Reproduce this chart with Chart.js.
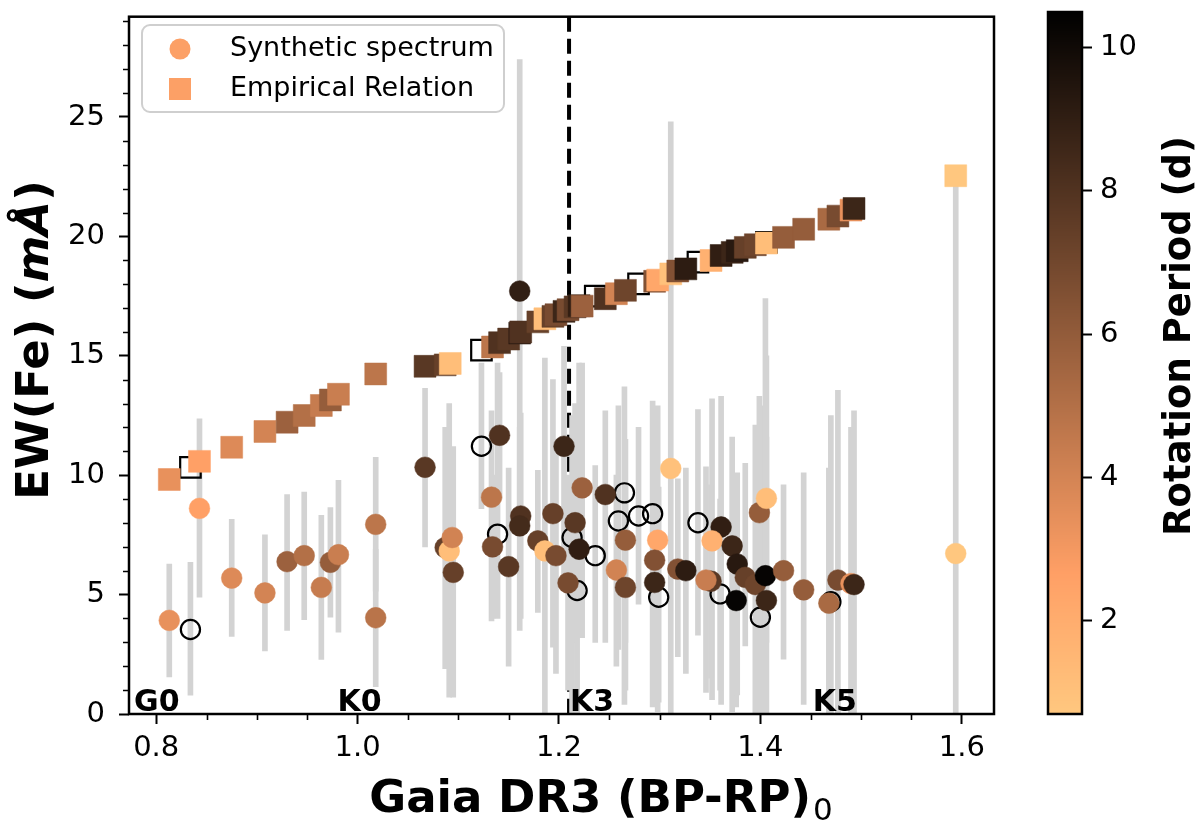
<!DOCTYPE html>
<html>
<head>
<meta charset="utf-8">
<script src="https://cdn.jsdelivr.net/npm/chart.js@4.4.1/dist/chart.umd.min.js"></script>
<style>
  html, body { margin: 0; padding: 0; background: #fff; }
  #wrap { position: relative; width: 1200px; height: 829px; }
  #main { position: absolute; left: 0; top: 0; }
  #cbar { position: absolute; left: 1000px; top: 0; }
</style>
</head>
<body>
<div id="wrap">
  <canvas id="main" width="1200" height="829"></canvas>
  <canvas id="cbar" width="200" height="829"></canvas>
</div>
<script>
// Synthetic spectrum EW(Fe) with error range, colour = rotation period (null = no period, open marker)
const synX  = [0.813, 0.834, 0.843, 0.875, 0.908, 0.930, 0.947, 0.964, 0.973, 0.981,
               1.018, 1.018, 1.067, 1.087, 1.091, 1.094, 1.095, 1.123, 1.133, 1.134,
               1.139, 1.141, 1.150, 1.162, 1.161, 1.161, 1.179, 1.186, 1.197, 1.194,
               1.205, 1.213, 1.216, 1.220, 1.209, 1.218, 1.223, 1.246, 1.265, 1.259,
               1.236, 1.257, 1.266, 1.266, 1.279, 1.293, 1.298, 1.295, 1.295, 1.299,
               1.311, 1.318, 1.326, 1.338, 1.361, 1.352, 1.351, 1.346, 1.360, 1.372,
               1.376, 1.377, 1.385, 1.395, 1.405, 1.406, 1.400, 1.399, 1.406, 1.423,
               1.443, 1.477, 1.490, 1.493, 1.468, 1.470, 1.594];
const synY  = [3.92, 3.54, 8.61, 5.69, 5.07, 6.38, 6.63, 5.30, 6.35, 6.67,
               7.94, 4.03, 10.33, 6.97, 6.83, 7.39, 5.93, 11.21, 9.08, 7.00,
               7.53, 11.67, 6.17, 8.29, 7.88, 17.71, 7.25, 6.83, 6.63, 8.39,
               11.21, 7.39, 8.01, 6.90, 5.49, 5.17, 9.47, 9.19, 9.26, 8.08,
               6.63, 6.03, 5.30, 7.28, 8.29, 8.39, 7.28, 6.44, 5.51, 4.89,
               10.28, 6.07, 6.00, 8.01, 7.83, 7.25, 5.56, 5.61, 5.03, 7.04,
               4.75, 6.28, 5.72, 5.42, 5.79, 4.75, 4.05, 8.43, 9.03, 6.00,
               5.20, 5.61, 5.46, 5.42, 4.64, 4.70, 6.72];
const synLo = [1.55, 0.79, 4.89, 3.25, 2.64, 3.50, 3.95, 2.29, 4.05, 3.43,
               5.14, 1.14, 7.00, 1.90, 0.70, 4.00, 0.70, 8.60, 3.90, 4.00,
               4.00, 9.00, 2.00, 4.00, 3.50, 8.00, 4.25, 0.00, 1.70, 2.80,
               5.50, 0.00, 3.00, 3.20, 1.00, 0.00, 3.20, 3.00, 0.40, 2.70,
               3.00, 2.00, 1.00, 3.00, 4.60, 0.30, 0.10, 2.50, 1.00, 0.50,
               0.00, 2.40, 1.70, 3.30, 0.40, 0.60, 1.50, 0.90, 1.00, 0.10,
               0.30, 0.80, 2.85, 0.00, 0.00, 0.00, 0.00, 3.60, 3.00, 2.30,
               0.40, 0.00, 0.00, 0.00, 0.00, 0.00, 0.00];
const synHi = [6.28, 6.35, 12.36, 8.15, 7.50, 9.19, 9.29, 8.32, 8.64, 9.79,
               10.75, 6.90, 13.64, 12.00, 13.00, 11.00, 11.20, 14.70, 12.70, 10.00,
               14.70, 14.30, 10.30, 12.60, 12.00, 27.40, 10.20, 14.90, 11.50, 14.00,
               15.40, 12.50, 13.00, 14.70, 10.00, 12.50, 14.70, 12.70, 13.70, 12.90,
               10.40, 10.00, 9.50, 11.50, 12.00, 13.10, 12.90, 10.50, 10.00, 9.50,
               24.80, 9.85, 10.30, 12.75, 13.30, 13.20, 9.60, 10.35, 9.00, 11.60,
               9.20, 10.10, 10.50, 12.10, 17.40, 11.60, 12.90, 13.30, 15.00, 9.60,
               10.10, 13.55, 12.00, 12.70, 10.30, 12.50, 22.50];
const synP  = [3.35, null, 2.6, 3.7, 4.0, 5.7, 5.0, 4.4, 5.9, 4.3,
               4.7, 4.8, 7.75, 7.36, 1.13, 4.07, 7.36, null, 4.7, 6.8,
               null, 8.05, 7.75, 8.05, 8.4, 8.98, 7.36, 1.13, 6.8, 7.36,
               8.64, null, 7.75, 9.0, 6.8, null, 5.7, 8.05, null, null,
               null, 4.07, 7.1, 5.9, null, null, 2.3, 6.5, 8.64, null,
               1.0, 6.5, 9.1, null, 9.0, 1.8, 7.75, 4.34, null, 8.64,
               10.3, 9.27, 7.36, 7.1, 10.3, 8.64, null, 5.9, 1.13, 5.9,
               5.9, 6.8, 3.35, 8.64, 5.3, null, 0.69];

// Empirical relation EW(Fe)
const empX = [0.813, 0.834, 0.843, 0.875, 0.908, 0.930, 0.947, 0.964, 0.973, 0.981,
              1.018, 1.067, 1.087, 1.092, 1.123, 1.134, 1.141, 1.150, 1.161, 1.162,
              1.179, 1.186, 1.194, 1.197, 1.205, 1.209, 1.216, 1.220, 1.223, 1.236,
              1.246, 1.257, 1.266, 1.279, 1.295, 1.298, 1.311, 1.318, 1.326, 1.338,
              1.351, 1.361, 1.372, 1.377, 1.385, 1.395, 1.406, 1.406, 1.423, 1.443,
              1.468, 1.477, 1.490, 1.493, 1.594];
const empY = [9.82, 10.33, 10.58, 11.17, 11.83, 12.22, 12.50, 12.92, 13.15, 13.39,
              14.24, 14.56, 14.62, 14.68, 15.24, 15.37, 15.55, 15.70, 15.95, 16.00,
              16.42, 16.55, 16.65, 16.72, 16.86, 16.93, 17.05, 17.10, 17.08, 17.50,
              17.39, 17.60, 17.74, 18.01, 18.12, 18.17, 18.43, 18.55, 18.64, 18.92,
              18.99, 19.20, 19.33, 19.40, 19.54, 19.65, 19.75, 19.72, 19.96, 20.30,
              20.72, 20.85, 21.10, 21.17, 22.54];
const empP = [3.35, null, 2.6, 3.7, 4.0, 5.7, 5.0, 4.4, 5.9, 4.3,
              4.7, 7.75, 7.36, 1.13, null, 4.7, 8.05, 7.75, 8.98, 8.05,
              7.36, 1.13, 7.36, 6.8, 8.64, 6.8, 7.75, 9.0, 5.7, null,
              8.05, 4.07, 7.1, null, 6.5, 2.3, 1.0, 6.5, 9.1, null,
              1.8, 9.0, 8.64, 9.27, 7.36, 7.1, null, 1.13, 5.9, 5.9,
              5.3, 6.8, 3.35, 8.64, 0.69];

const xTicks = [0.8, 1.0, 1.2, 1.4, 1.6];
const yTicks = [0, 5, 10, 15, 20, 25];
const cbTicks = [2, 4, 6, 8, 10];
const spTypes = ['G0', 'K0', 'K3', 'K5'];
const spX = [0.778, 0.980, 1.211, 1.452];
const k3Line = 1.21;

const xMin = 0.773, xMax = 1.632, yMin = 0, yMax = 29.2;
const cbMin = 0.69, cbMax = 10.5;
const FONT = "'DejaVu Sans', sans-serif";

// reversed copper colormap
function cmap(p) {
  let t = 1 - (p - cbMin) / (cbMax - cbMin);
  t = Math.max(0, Math.min(1, t));
  const r = Math.round(Math.min(1, 1.25 * t) * 255);
  const g = Math.round(0.7812 * t * 255);
  const b = Math.round(0.4975 * t * 255);
  return 'rgb(' + r + ',' + g + ',' + b + ')';
}

function points(xs, ys, ps, filled) {
  let out = [];
  for (let i = 0; i < xs.length; i++) {
    if ((ps[i] !== null) === filled) out.push({x: xs[i], y: ys[i], p: ps[i]});
  }
  return out;
}

let synFilled = points(synX, synY, synP, true);
let synOpen = points(synX, synY, synP, false);
let empFilled = points(empX, empY, empP, true);
let empOpen = points(empX, empY, empP, false);
let errBars = synX.map((x, i) => ({x: x, y: [synLo[i], synHi[i]]}));

const decor = {
  id: 'decor',
  beforeDatasetsDraw(chart) {
    const ctx = chart.ctx, xs = chart.scales.x, a = chart.chartArea;
    ctx.save();
    ctx.strokeStyle = '#000';
    ctx.lineWidth = 4;
    ctx.setLineDash([15, 7]);
    let px = xs.getPixelForValue(k3Line);
    ctx.beginPath();
    ctx.moveTo(px, a.top);
    ctx.lineTo(px, a.bottom);
    ctx.stroke();
    ctx.restore();
  },
  afterDraw(chart) {
    const ctx = chart.ctx, xs = chart.scales.x, ys = chart.scales.y, a = chart.chartArea;
    ctx.save();

    // minor ticks
    ctx.strokeStyle = '#000';
    ctx.lineWidth = 1.6;
    ctx.beginPath();
    for (let k = 16; k <= 32; k++) {
      let v = k * 0.05;
      if (k % 4 === 0 || v < xMin || v > xMax) continue;
      let px = Math.round(xs.getPixelForValue(v)) + 0.5;
      ctx.moveTo(px, a.bottom);
      ctx.lineTo(px, a.bottom + 6);
    }
    for (let v = 1; v < yMax; v++) {
      if (v % 5 === 0) continue;
      let py = Math.round(ys.getPixelForValue(v)) + 0.5;
      ctx.moveTo(a.left, py);
      ctx.lineTo(a.left - 6, py);
    }
    ctx.stroke();

    // frame
    ctx.lineWidth = 2.5;
    ctx.strokeRect(a.left, a.top, a.right - a.left, a.bottom - a.top);

    // spectral types
    ctx.fillStyle = '#000';
    ctx.font = 'bold 30px ' + FONT;
    ctx.textAlign = 'left';
    ctx.textBaseline = 'alphabetic';
    spTypes.forEach((t, i) => {
      ctx.fillText(t, xs.getPixelForValue(spX[i]), ys.getPixelForValue(0) - 3);
    });

    // legend
    ctx.beginPath();
    ctx.roundRect(142, 25, 362, 87, 8);
    ctx.fillStyle = 'rgba(255,255,255,0.85)';
    ctx.fill();
    ctx.strokeStyle = '#cfcfcf';
    ctx.lineWidth = 2;
    ctx.stroke();
    ctx.fillStyle = 'rgb(252,160,102)';
    ctx.beginPath();
    ctx.arc(180, 49, 10.5, 0, Math.PI * 2);
    ctx.fill();
    ctx.fillRect(169, 78, 22, 22);
    ctx.fillStyle = '#000';
    ctx.font = '27px ' + FONT;
    ctx.textBaseline = 'middle';
    ctx.fillText('Synthetic spectrum', 230, 49);
    ctx.fillText('Empirical Relation', 230, 89);

    // x title
    ctx.textBaseline = 'alphabetic';
    ctx.font = 'bold 45px ' + FONT;
    let main = 'Gaia DR3 (BP-RP)';
    let wMain = ctx.measureText(main).width;
    ctx.font = '31px ' + FONT;
    let wSub = ctx.measureText('0').width;
    let x0 = 600 - (wMain + wSub) / 2;
    ctx.font = 'bold 45px ' + FONT;
    ctx.fillText(main, x0, 812);
    ctx.font = '31px ' + FONT;
    ctx.fillText('0', x0 + wMain + 2, 820);

    // y title
    const parts = [['EW(Fe) (', 'bold 45px '], ['m\u00C5', 'italic bold 45px '], [')', 'bold 45px ']];
    let tot = 0;
    parts.forEach(p => { ctx.font = p[1] + FONT; tot += ctx.measureText(p[0]).width; });
    ctx.translate(48, 340);
    ctx.rotate(-Math.PI / 2);
    let xx = -tot / 2;
    parts.forEach(p => {
      ctx.font = p[1] + FONT;
      ctx.fillText(p[0], xx, 0);
      xx += ctx.measureText(p[0]).width;
    });
    ctx.restore();
  }
};

new Chart(document.getElementById('main'), {
  type: 'scatter',
  data: {
    datasets: [
      {
        type: 'scatter', label: 'Synthetic spectrum', data: synFilled,
        pointStyle: 'circle', pointRadius: 10.4, pointHoverRadius: 10.4,
        backgroundColor: synFilled.map(d => cmap(d.p)),
        borderColor: synFilled.map(d => cmap(d.p)), borderWidth: 0.5, order: 0
      },
      {
        type: 'scatter', label: 'Empirical Relation', data: empFilled,
        pointStyle: 'rect', pointRadius: 15.5, pointHoverRadius: 15.5,
        backgroundColor: empFilled.map(d => cmap(d.p)),
        borderColor: empFilled.map(d => cmap(d.p)), borderWidth: 0.5, order: 1
      },
      {
        type: 'scatter', label: 'no period (syn)', data: synOpen,
        pointStyle: 'circle', pointRadius: 9.6, pointHoverRadius: 9.6,
        backgroundColor: 'rgba(0,0,0,0)', borderColor: '#000', borderWidth: 2.2, order: 2
      },
      {
        type: 'scatter', label: 'no period (emp)', data: empOpen,
        pointStyle: 'rect', pointRadius: 14.5, pointHoverRadius: 14.5,
        backgroundColor: 'rgba(0,0,0,0)', borderColor: '#000', borderWidth: 2.2, order: 2
      },
      {
        type: 'bar', label: 'error', data: errBars,
        backgroundColor: 'rgb(211,211,211)', barThickness: 5, order: 5
      }
    ]
  },
  options: {
    responsive: false,
    animation: false,
    devicePixelRatio: 1,
    layout: { padding: { top: 12, right: 206, bottom: 0, left: 0 } },
    plugins: { legend: { display: false }, tooltip: { enabled: false } },
    scales: {
      x: {
        type: 'linear', min: xMin, max: xMax, offset: false,
        afterBuildTicks: s => { s.ticks = xTicks.map(v => ({value: v})); },
        afterFit: s => { s.height = 115; s.paddingLeft = 0; s.paddingRight = 0; },
        grid: { offset: false, drawOnChartArea: false, drawTicks: true, tickLength: 10, tickWidth: 2, tickColor: '#000' },
        border: { display: false },
        ticks: { font: { family: FONT, size: 29 }, color: '#000', padding: 7, maxRotation: 0, autoSkip: false,
                 callback: v => v.toFixed(1) }
      },
      y: {
        type: 'linear', min: yMin, max: yMax,
        afterBuildTicks: s => { s.ticks = yTicks.map(v => ({value: v})); },
        afterFit: s => { s.width = 129; s.paddingTop = 0; s.paddingBottom = 0; },
        grid: { drawOnChartArea: false, drawTicks: true, tickLength: 10, tickWidth: 2, tickColor: '#000' },
        border: { display: false },
        ticks: { font: { family: FONT, size: 29 }, color: '#000', padding: 14, autoSkip: false,
                 callback: v => String(v) }
      }
    }
  },
  plugins: [decor]
});

const cbDecor = {
  id: 'cbDecor',
  beforeDraw(chart) {
    const ctx = chart.ctx, ys = chart.scales.y, a = chart.chartArea;
    ctx.save();
    for (let py = Math.floor(a.top); py < a.bottom; py++) {
      ctx.fillStyle = cmap(ys.getValueForPixel(py + 0.5));
      ctx.fillRect(a.left, py, a.right - a.left, 1);
    }
    ctx.restore();
  },
  afterDraw(chart) {
    const ctx = chart.ctx, a = chart.chartArea;
    ctx.save();
    ctx.strokeStyle = '#000';
    ctx.lineWidth = 2.5;
    ctx.strokeRect(a.left, a.top, a.right - a.left, a.bottom - a.top);
    ctx.translate(180, 336);
    ctx.rotate(-Math.PI / 2);
    ctx.fillStyle = '#000';
    ctx.font = 'bold 37px ' + FONT;
    ctx.textAlign = 'center';
    ctx.textBaseline = 'middle';
    ctx.fillText('Rotation Period (d)', 0, 0);
    ctx.restore();
  }
};

new Chart(document.getElementById('cbar'), {
  type: 'scatter',
  data: { datasets: [] },
  options: {
    responsive: false,
    animation: false,
    devicePixelRatio: 1,
    layout: { padding: { top: 12, right: 0, bottom: 115, left: 48 } },
    plugins: { legend: { display: false }, tooltip: { enabled: false } },
    scales: {
      x: { display: false, min: 0, max: 1 },
      y: {
        position: 'right', min: cbMin, max: cbMax,
        afterBuildTicks: s => { s.ticks = cbTicks.map(v => ({value: v})); },
        afterFit: s => { s.width = 118; s.paddingTop = 0; s.paddingBottom = 0; },
        grid: { drawOnChartArea: false, drawTicks: true, tickLength: 10, tickWidth: 2, tickColor: '#000' },
        border: { display: false },
        ticks: { font: { family: FONT, size: 29 }, color: '#000', padding: 8, callback: v => String(v) }
      }
    }
  },
  plugins: [cbDecor]
});
</script>
</body>
</html>
